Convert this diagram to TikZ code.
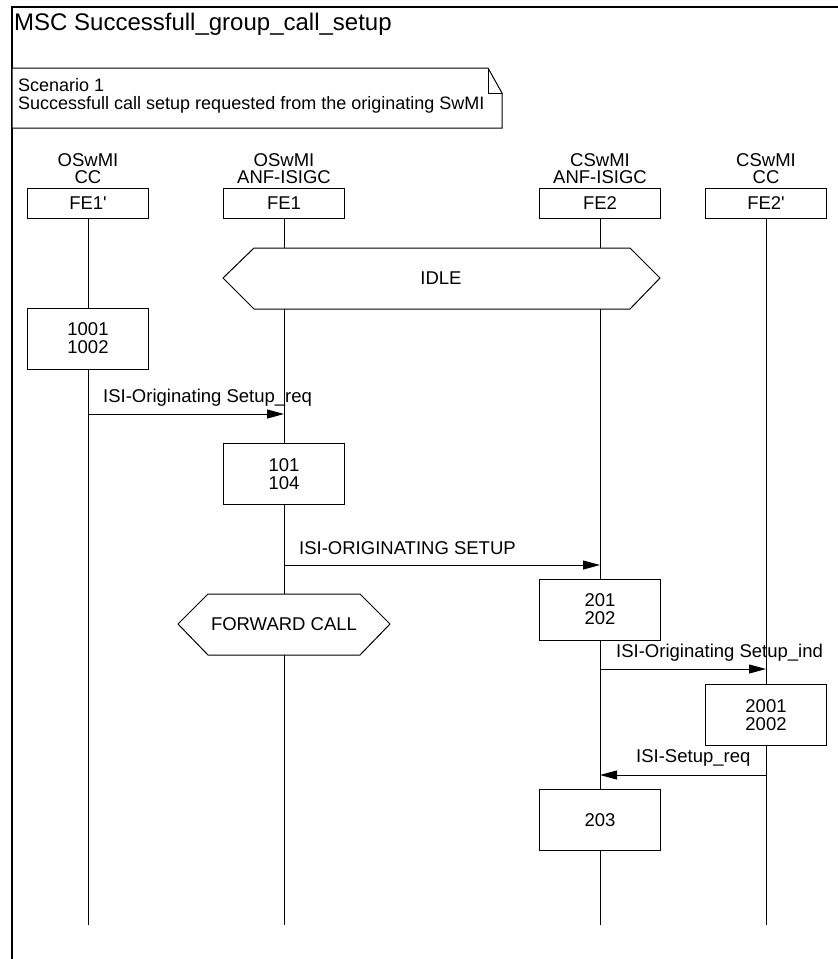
\documentclass[tikz,border=0pt]{standalone}
\usepackage{fontspec}
\setmainfont{Liberation Sans}
\usetikzlibrary{arrows.meta}
\begin{document}
\begin{tikzpicture}[x=1pt,y=-1pt,
  every node/.style={inner sep=0pt, font=\fontsize{18.5}{18}\selectfont},
  frameline/.style={line width=2pt},
  lifeline/.style={line width=1pt},
  headbox/.style={draw, line width=1pt, fill=white, minimum width=121pt, minimum height=30pt},
  actbox/.style={draw, line width=1pt, fill=white, minimum width=121pt, minimum height=61pt, align=center},
  condshape/.style={draw, line width=1pt, fill=white, line join=miter},
  msg/.style={line width=1pt, -{Triangle[length=17pt,width=9pt]}},
  msglabel/.style={anchor=base west},
  notetext/.style={anchor=base west, font=\fontsize{18}{18}\selectfont},
  entlabel/.style={align=center, font=\fontsize{18.5}{17}\selectfont},
]
\useasboundingbox (0,0) rectangle (838,959);

% diagram frame and title
\draw[frameline] (12,959) -- (12,7) -- (838,7);
\node[anchor=base west, font=\fontsize{24}{24}\selectfont] (title) at (14,30) {MSC Successfull\_group\_call\_setup};

% comment note with folded corner
\draw[line width=1pt, fill=white] (12,68) -- (488,68) -- (502,93) -- (502,128) -- (12,128) -- cycle;
\draw[line width=1pt] (488,68) -- (488,93) -- (502,93);
\node[notetext] (note1) at (18,91) {Scenario 1};
\node[notetext] (note2) at (18,109) {Successfull call setup requested from the originating SwMI};

% instance heads
\node[entlabel] (l1) at (88,169) {OSwMI\\CC};
\node[entlabel] (l2) at (284,169) {OSwMI\\ANF-ISIGC};
\node[entlabel] (l3) at (600,169) {CSwMI\\ANF-ISIGC};
\node[entlabel] (l4) at (766,169) {CSwMI\\CC};
\node[headbox] (fe1p) at (88,203) {FE1\textquotesingle};
\node[headbox] (fe1) at (284,203) {FE1};
\node[headbox] (fe2) at (600,203) {FE2};
\node[headbox] (fe2p) at (766,203) {FE2\textquotesingle};

% lifelines
\coordinate (end1p) at (88,925);
\coordinate (end1) at (284,925);
\coordinate (end2) at (600,925);
\coordinate (end2p) at (766,925);
\draw[lifeline] (fe1p.south) -- (end1p);
\draw[lifeline] (fe1.south) -- (end1);
\draw[lifeline] (fe2.south) -- (end2);
\draw[lifeline] (fe2p.south) -- (end2p);

% IDLE condition
\draw[condshape] (223,278) -- (254,248) -- (630,248) -- (660,278) -- (630,309) -- (254,309) -- cycle;
\node (idle) at (441,278) {IDLE};

% actions and messages
\node[actbox] (a1001) at (88,338.5) {1001\\1002};

\coordinate (m1s) at (88,414);
\coordinate (m1e) at (284,414);
\draw[msg] (m1s) -- (m1e);
\node[msglabel] (m1l) at (103,402) {ISI-Originating Setup\_req};

\node[actbox] (a101) at (284,474) {101\\104};

\coordinate (m2s) at (284,565);
\coordinate (m2e) at (600,565);
\draw[msg] (m2s) -- (m2e);
\node[msglabel] (m2l) at (299,554) {ISI-ORIGINATING SETUP};

\node[actbox] (a201) at (600,609.5) {201\\202};

\draw[condshape] (178,624) -- (208,594) -- (360,594) -- (390,624) -- (360,655) -- (208,655) -- cycle;
\node (fwd) at (284,624) {FORWARD CALL};

\coordinate (m3s) at (600,669);
\coordinate (m3e) at (766,669);
\draw[msg] (m3s) -- (m3e);
\node[msglabel] (m3l) at (616,657) {ISI-Originating Setup\_ind};

\node[actbox] (a2001) at (766,715) {2001\\2002};

\coordinate (m4s) at (766,775);
\coordinate (m4e) at (600,775);
\draw[msg] (m4s) -- (m4e);
\node[msglabel] (m4l) at (636,762) {ISI-Setup\_req};

\node[actbox] (a203) at (600,820) {203};
\end{tikzpicture}
\end{document}
